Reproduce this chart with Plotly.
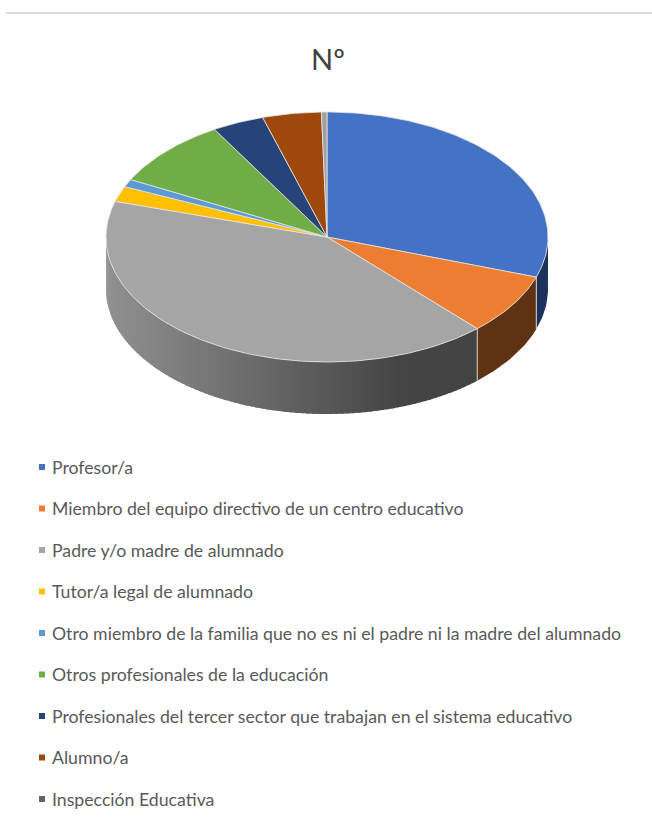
import math
import plotly.graph_objects as go

# Data (share of responses, %)
categories = [
    "Profesor/a",
    "Miembro del equipo directivo de un centro educativo",
    "Padre y/o madre de alumnado",
    "Tutor/a legal de alumnado",
    "Otro miembro de la familia que no es ni el padre ni la madre del alumnado",
    "Otros profesionales de la educación",
    "Profesionales del tercer sector que trabajan en el sistema educativo",
    "Alumno/a",
    "Inspección Educativa",
]
values = [30.2, 7.9, 41.5, 2.0, 1.0, 8.9, 3.8, 4.3, 0.4]
colors = ["#4472C4", "#ED7D31", "#A5A5A5", "#FFC000", "#5B9BD5", "#70AD47", "#264478", "#9E480E", "#A0A0A0"]
legend_colors = ["#4472C4", "#ED7D31", "#A5A5A5", "#FFC000", "#5B9BD5", "#70AD47", "#264478", "#9E480E", "#636363"]
title = "Nº"

W, H = 652, 821
CX, CY, RX, RY, DEPTH = 327, 237, 221, 125, 52
FONT = "Lato, sans-serif"


def pt(t, drop=0.0):
    a = math.radians(t)
    return CX + RX * math.sin(a), CY - RY * math.cos(a) + drop


def arc(t0, t1, drop=0.0):
    n = max(2, int(abs(t1 - t0)) + 2)
    return [pt(t0 + (t1 - t0) * i / (n - 1), drop) for i in range(n)]


def side_colour(i, x):
    if i == 0:
        return "#1b335c"
    if i == 1:
        return "#5f3212"
    # grey wall: lit from the left
    f = min(1.0, max(0.0, (x - 106) / 300))
    g = int(round(145 + (68 - 145) * f))
    return f"rgb({g},{g},{g})"


fig = go.Figure()
total = sum(values)
edges = [0.0]
for v in values:
    edges.append(edges[-1] + v / total * 360)


def poly(pts, fill, line, width):
    xs = [p[0] for p in pts] + [pts[0][0]]
    ys = [p[1] for p in pts] + [pts[0][1]]
    fig.add_trace(go.Scatter(x=xs, y=ys, mode="lines", fill="toself", fillcolor=fill,
                             line=dict(color=line, width=width), hoverinfo="skip", showlegend=False))


# Visible wall: strips overlap the next one so that no seams show
for i, (a, b) in enumerate(zip(edges[:-1], edges[1:])):
    lo, hi = max(a, 90), min(b, 270)
    if hi <= lo:
        continue
    if i == 2:
        # grey wall is painted from its far end back so each strip overlaps the previous
        t = hi
        while t > lo + 1e-9:
            t2 = max(lo, t - 1.5)
            start = min(hi, t + 1)
            top = arc(t2, start)
            bot = arc(start, t2, DEPTH)
            mid = pt((t + t2) / 2)[0]
            c = side_colour(i, mid)
            poly(top + bot, c, c, 0)
            t = t2
    else:
        top = arc(lo, hi)
        bot = arc(hi, lo, DEPTH)
        c = side_colour(i, top[0][0])
        poly(top + bot, c, c, 0)

# Light seams between visible wall pieces
for e in edges[1:3]:
    x, y = pt(e)
    fig.add_trace(go.Scatter(x=[x, x], y=[y, y + DEPTH], mode="lines",
                             line=dict(color="#d0d0d0", width=1), hoverinfo="skip", showlegend=False))

# Top face
for i, (a, b) in enumerate(zip(edges[:-1], edges[1:])):
    poly([(CX, CY)] + arc(a, b), colors[i], "#e4e4e4", 0.8)

# Legend
LEG_Y0, LEG_STEP = 467, 41.5
for i, (name, c) in enumerate(zip(categories, legend_colors)):
    y = LEG_Y0 + i * LEG_STEP
    fig.add_trace(go.Scatter(x=[42], y=[y], mode="markers",
                             marker=dict(symbol="square", size=6, color=c),
                             hoverinfo="skip", showlegend=False))
    fig.add_annotation(x=52, y=y, text=name, showarrow=False, xanchor="left", yanchor="middle",
                       xshift=-2, font=dict(family=FONT, size=17.7, color="#595959"))

fig.add_annotation(x=328, y=58, text=title, showarrow=False, xanchor="center", yanchor="middle",
                   font=dict(family=FONT, size=29, color="#404040"))

fig.add_shape(type="line", x0=6, x1=652, y0=13, y1=13, line=dict(color="#d9d9d9", width=2))

fig.update_layout(
    width=W, height=H, margin=dict(l=0, r=0, t=0, b=0),
    paper_bgcolor="white", plot_bgcolor="white", showlegend=False,
    xaxis=dict(visible=False, range=[0, W], fixedrange=True),
    yaxis=dict(visible=False, range=[H, 0], fixedrange=True),
)
fig.write_html("out.html", config={"displayModeBar": False},
               post_script="document.body.style.margin='0';document.body.style.overflow='hidden';")
